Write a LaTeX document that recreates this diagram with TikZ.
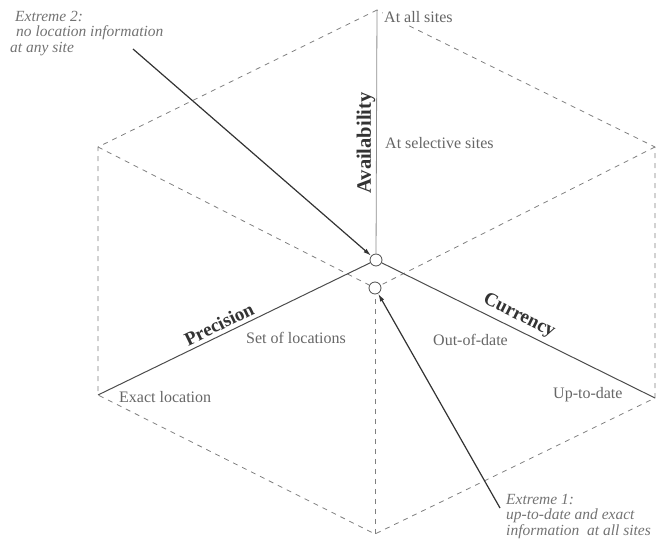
\documentclass[tikz,border=0pt]{standalone}
\usepackage{fontspec}
\setmainfont{Liberation Serif}
\usetikzlibrary{arrows.meta}
\begin{document}
\begin{tikzpicture}[x=1pt,y=-1pt,
  edge/.style={draw=black!50, line width=0.8pt, dash pattern=on 5pt off 5pt},
  axis/.style={draw=black!70, line width=1pt},
  pointer/.style={draw=black!80, line width=1.2pt, -{Latex[length=8pt,width=4.5pt]}},
  corner/.style={circle, draw=black!70, line width=0.8pt, minimum size=12pt, inner sep=0pt},
  lbl/.style={font=\fontsize{16}{19}\selectfont, text=black!60, inner sep=1pt},
  axlbl/.style={font=\fontsize{19}{22}\selectfont\bfseries, text=black!80, inner sep=0pt},
  note/.style={font=\fontsize{15.5}{15.5}\selectfont\itshape, text=black!55, align=left, inner sep=0pt}]

\useasboundingbox (0,0) rectangle (670,548);

% outer corners of the hexagon
\coordinate (T)  at (377,10);
\coordinate (UL) at (98,147);
\coordinate (UR) at (655,147);
\coordinate (LL) at (98,395);
\coordinate (LR) at (655,398);
\coordinate (B)  at (375,534);

% the two inner corners
\node[corner] (c1) at (376,260) {};
\node[corner] (c2) at (375,288) {};

% hidden edges and outline
\draw[edge] (T) -- (UL) -- (LL) -- (B) -- (LR) -- (UR) -- (T);
\draw[edge] (UL) -- (c2);
\draw[edge] (UR) -- (c2);
\draw[edge] (B) -- (c2);

% the three axes
\draw[axis, draw=black!45, line width=0.8pt] (T) -- (c1);
\draw[axis] (LL) -- (c1);
\draw[axis] (c1) -- (LR);

% axis titles
\node[axlbl, rotate=90, font=\fontsize{20.5}{22}\selectfont\bfseries] (avail) at (366,143) {Availability};
\node[axlbl, rotate=25.9] (prec) at (219,324) {Precision};
\node[axlbl, rotate=-26.3] (curr) at (519,316) {Currency};

% values along the axes
\node[lbl, anchor=base west, fill=white] (allsites) at (383,23) {At all sites};
\node[lbl, anchor=base west] (selsites) at (384,149) {At selective sites};
\node[lbl, anchor=base west] (setloc) at (245,344) {Set of locations};
\node[lbl, anchor=base west] (exloc) at (118,402) {Exact location};
\node[lbl, anchor=base west] (outdate) at (432,345) {Out-of-date};
\node[lbl, anchor=base west] (uptodate) at (552,398) {Up-to-date};

% the two extremes
\node[note, anchor=north west] (ext2) at (10,11)
  {\hspace*{5pt}Extreme 2:\\ \hspace*{6pt}no location information\\ at any site};
\node[note, anchor=north west] (ext1) at (506,494)
  {Extreme 1:\\ up-to-date and exact\\ information\ \ at all sites};

\coordinate (p2) at (133,49);
\coordinate (p1) at (500,508);
\draw[pointer] (p2) -- (c1);
\draw[pointer] (p1) -- (c2);

\end{tikzpicture}
\end{document}
